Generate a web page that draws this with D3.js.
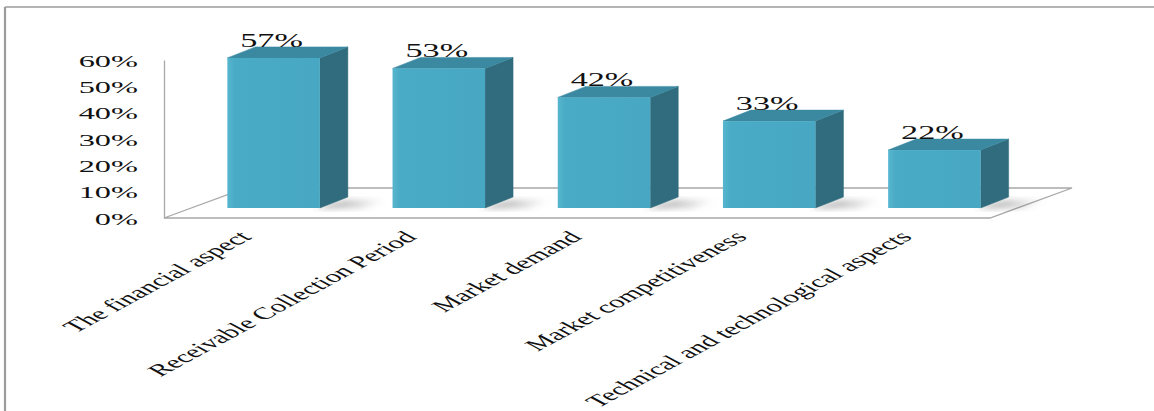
<!DOCTYPE html>
<html><head><meta charset="utf-8">
<script src="https://cdn.jsdelivr.net/npm/d3@7"></script>
<style>body{margin:0;background:#fff;} svg{display:block;}</style>
</head><body>
<svg id="chart" width="1154" height="411"></svg>
<script>
const categories = ["The financial aspect", "Receivable Collection Period", "Market demand", "Market competitiveness", "Technical and technological aspects"];
const values = [0.57, 0.53, 0.42, 0.33, 0.22];
const valueLabels = ["57%", "53%", "42%", "33%", "22%"];
const tickValues = [0, 0.1, 0.2, 0.3, 0.4, 0.5, 0.6];

const SX = 1.85;               // horizontal stretch of the original picture
const floorDepth = [82, -30];
const barFront = [27, -10];
const barDepth = [28, -11];
const FONT = "'Liberation Serif','Times New Roman',serif";

const svg = d3.select("#chart");
const x = d3.scaleBand().domain(categories).range([164, 990]).paddingInner(0.44).paddingOuter(0.22);
const y = d3.scaleLinear().domain([0, 0.6]).range([218, 60]);
const bw = x.bandwidth();

const defs = svg.append("defs");
defs.append("filter").attr("id", "blur").attr("x", "-50%").attr("y", "-50%").attr("width", "200%").attr("height", "200%")
  .append("feGaussianBlur").attr("stdDeviation", 3);
const sg = defs.append("linearGradient").attr("id", "shadowGrad").attr("x1", 0).attr("x2", 1).attr("y1", 0).attr("y2", 0);
sg.append("stop").attr("offset", "0%").attr("stop-color", "#555").attr("stop-opacity", 0.7);
sg.append("stop").attr("offset", "100%").attr("stop-color", "#888").attr("stop-opacity", 0);
const fg = defs.append("linearGradient").attr("id", "frontGrad").attr("x1", 0).attr("x2", 1).attr("y1", 0).attr("y2", 0);
fg.append("stop").attr("offset", "0%").attr("stop-color", "#56b6cf");
fg.append("stop").attr("offset", "8%").attr("stop-color", "#4aabc6");
fg.append("stop").attr("offset", "100%").attr("stop-color", "#48a8c3");

// frame
svg.append("line").attr("x1", 5).attr("y1", 7).attr("x2", 1154).attr("y2", 7).attr("stroke", "#9b9b9b").attr("stroke-width", 1.6);
svg.append("line").attr("x1", 5).attr("y1", 7).attr("x2", 5).attr("y2", 411).attr("stroke", "#9b9b9b").attr("stroke-width", 2.2);

// floor
const r0 = x.range()[0], r1 = x.range()[1], yb0 = y(0);
svg.append("polygon")
  .attr("points", [[r0, yb0], [r1, yb0], [r1 + floorDepth[0], yb0 + floorDepth[1]], [r0 + floorDepth[0], yb0 + floorDepth[1]]].map(p => p.join(",")).join(" "))
  .attr("fill", "#fff").attr("stroke", "#a8a8a8").attr("stroke-width", 1.3);

// y axis
const axis = svg.append("g").attr("transform", `translate(${r0},0)`)
  .call(d3.axisLeft(y).tickValues(tickValues).tickFormat(d3.format(".0%")).tickSize(0).tickSizeOuter(0));
axis.select(".domain").attr("stroke", "#a8a8a8").attr("stroke-width", 1.3);
axis.selectAll("text")
  .attr("x", -26 / SX).attr("dy", "0.35em")
  .attr("transform", `scale(${SX},1)`)
  .attr("font-family", FONT).attr("font-size", 17.5).attr("fill", "#111");

// bars
const bars = svg.append("g").selectAll("g").data(categories).join("g");
bars.each(function (c, i) {
  const g = d3.select(this);
  const x0 = x(c) + barFront[0], x1 = x0 + bw;
  const yb = y(0) + barFront[1], yt = y(values[i]) + barFront[1];
  const dx = barDepth[0], dy = barDepth[1];
  // shadow on floor
  g.append("polygon")
    .attr("points", [[x1 - 4, yb], [x1 + dx - 2, yb + dy + 3], [x1 + dx + 40, yb + dy + 3], [x1 + 42, yb]].map(p => p.join(",")).join(" "))
    .attr("fill", "url(#shadowGrad)").attr("filter", "url(#blur)");
  // side
  g.append("polygon")
    .attr("points", [[x1, yt], [x1 + dx, yt + dy], [x1 + dx, yb + dy], [x1, yb]].map(p => p.join(",")).join(" "))
    .attr("fill", "#306c7d").attr("stroke", "#306c7d").attr("stroke-width", 0.5).attr("stroke-linejoin", "round");
  // top
  g.append("polygon")
    .attr("points", [[x0, yt], [x1, yt], [x1 + dx, yt + dy], [x0 + dx, yt + dy]].map(p => p.join(",")).join(" "))
    .attr("fill", "#3a89a1").attr("stroke", "#3a89a1").attr("stroke-width", 0.5).attr("stroke-linejoin", "round");
  // front
  g.append("rect").attr("x", x0).attr("y", yt).attr("width", bw).attr("height", yb - yt)
    .attr("fill", "url(#frontGrad)");
  // value label
  g.append("text")
    .attr("transform", `translate(${x0 + bw / 2 - 2},${yt + dy}) scale(${SX},1)`)
    .attr("text-anchor", "middle")
    .attr("font-family", FONT).attr("font-size", 18.5).attr("fill", "#111")
    .text(valueLabels[i]);
});

// category labels
svg.append("g").selectAll("text").data(categories).join("text")
  .attr("transform", c => `translate(${x(c) + bw / 2 + 6},238) scale(${SX},1) rotate(-45)`)
  .attr("text-anchor", "end")
  .attr("font-family", FONT).attr("font-size", 16.8).attr("fill", "#111")
  .text(c => c);
</script>
</body></html>
